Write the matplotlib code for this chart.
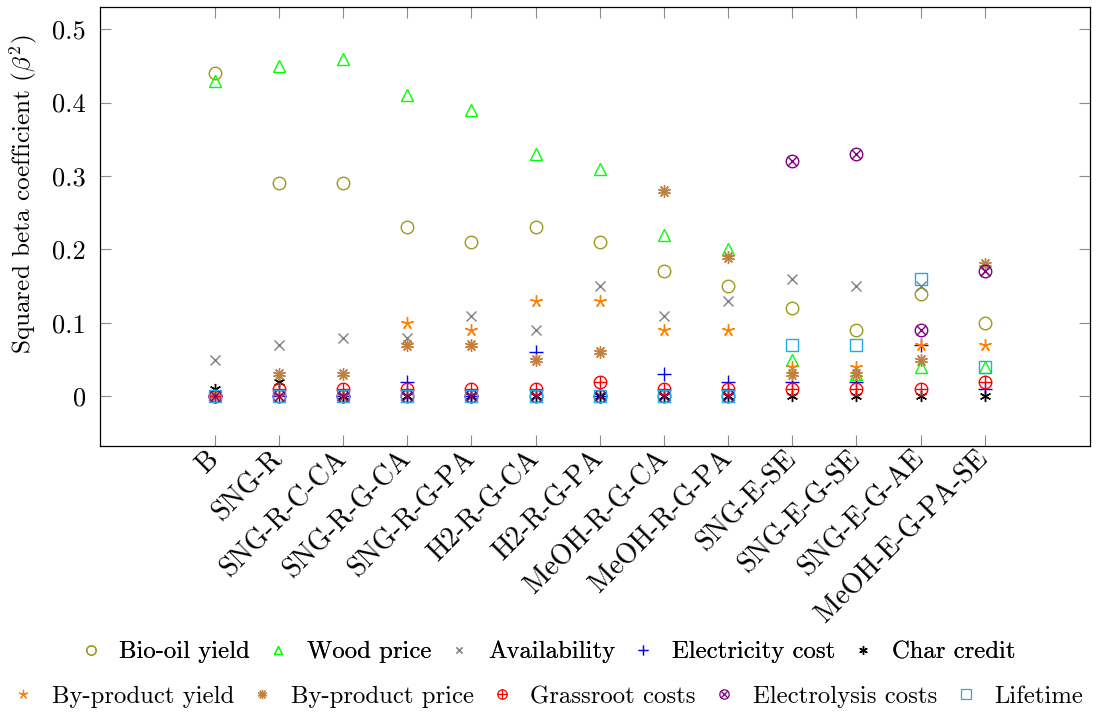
import matplotlib
matplotlib.use('Agg')
import matplotlib.pyplot as plt
from matplotlib.path import Path
from matplotlib.lines import Line2D

plt.rcParams['font.family'] = ['cmr10', 'DejaVu Serif']
plt.rcParams['mathtext.fontset'] = 'cm'
plt.rcParams['axes.unicode_minus'] = False
plt.rcParams['axes.formatter.use_mathtext'] = True

cases = ['B', 'SNG-R', 'SNG-R-C-CA', 'SNG-R-G-CA', 'SNG-R-G-PA', 'H2-R-G-CA', 'H2-R-G-PA',
         'MeOH-R-G-CA', 'MeOH-R-G-PA', 'SNG-E-SE', 'SNG-E-G-SE', 'SNG-E-G-AE', 'MeOH-E-G-PA-SE']

bio_oil_yield = [0.44, 0.29, 0.29, 0.23, 0.21, 0.23, 0.21, 0.17, 0.15, 0.12, 0.09, 0.14, 0.10]
wood_price = [0.43, 0.45, 0.46, 0.41, 0.39, 0.33, 0.31, 0.22, 0.20, 0.05, 0.03, 0.04, 0.04]
availability = [0.05, 0.07, 0.08, 0.08, 0.11, 0.09, 0.15, 0.11, 0.13, 0.16, 0.15, 0.15, 0.17]
electricity_cost = [0, 0, 0, 0.02, 0, 0.06, 0, 0.03, 0.02, 0.02, 0.02, 0.07, 0.01]
char_credit = [0.01, 0.02, 0, 0, 0, 0, 0, 0, 0, 0, 0, 0, 0]
byproduct_yield = [0, 0, 0, 0.10, 0.09, 0.13, 0.13, 0.09, 0.09, 0.04, 0.04, 0.07, 0.07]
byproduct_price = [0, 0.03, 0.03, 0.07, 0.07, 0.05, 0.06, 0.28, 0.19, 0.03, 0.03, 0.05, 0.18]
grassroot_costs = [0, 0.01, 0.01, 0.01, 0.01, 0.01, 0.02, 0.01, 0.01, 0.01, 0.01, 0.01, 0.02]
electrolysis_costs = [0, 0, 0, 0, 0, 0, 0, 0, 0, 0.32, 0.33, 0.09, 0.17]
lifetime = [0, 0, 0, 0, 0, 0, 0, 0, 0, 0.07, 0.07, 0.16, 0.04]

yticks = [0, 0.1, 0.2, 0.3, 0.4, 0.5]
yticklabels = ['0', '0.1', '0.2', '0.3', '0.4', '0.5']

# circle with a cross inside (oplus / otimes)
d = 0.7071
oplus = Path.make_compound_path(Path.unit_circle(),
                                Path([[-1, 0], [1, 0]], [Path.MOVETO, Path.LINETO]),
                                Path([[0, -1], [0, 1]], [Path.MOVETO, Path.LINETO]))
otimes = Path.make_compound_path(Path.unit_circle(),
                                 Path([[-d, -d], [d, d]], [Path.MOVETO, Path.LINETO]),
                                 Path([[-d, d], [d, -d]], [Path.MOVETO, Path.LINETO]))

series = [
    ('Bio-oil yield', bio_oil_yield, 'o', '#9A9A1A', 9),
    ('Wood price', wood_price, '^', '#00FF00', 8.5),
    ('Availability', availability, 'x', '#808080', 6.5),
    ('Electricity cost', electricity_cost, '+', '#0000FF', 10),
    ('Char credit', char_credit, (6, 2, 0), '#000000', 8),
    ('By-product yield', byproduct_yield, (5, 2, 0), '#FF8000', 9),
    ('By-product price', byproduct_price, (10, 2, 0), '#BF8040', 9),
    ('Grassroot costs', grassroot_costs, oplus, '#FF0000', 9),
    ('Electrolysis costs', electrolysis_costs, otimes, '#800080', 9),
    ('Lifetime', lifetime, 's', '#22AAE6', 9),
]

fig = plt.figure(figsize=(10.96, 7.14), dpi=100)
ax = fig.add_axes([0.0912, 0.375, 0.9033, 0.615])

x = list(range(len(cases)))
handles = []
for name, vals, mk, col, ms in series:
    ax.plot(x, vals, linestyle='none', marker=mk, markersize=ms,
            markerfacecolor='none', markeredgecolor=col, markeredgewidth=1.0)
    handles.append(Line2D([], [], linestyle='none', marker=mk, markersize=ms * 0.75,
                          markerfacecolor='none', markeredgecolor=col,
                          markeredgewidth=0.9, label=name))

ax.set_xlim(-1.79, 13.64)
ax.set_ylim(-0.068, 0.530)
ax.set_xticks(x)
ax.set_xticklabels(cases, rotation=45, ha='right', va='center',
                   rotation_mode='anchor', fontsize=20)
ax.set_yticks(yticks)
ax.set_yticklabels(yticklabels, fontsize=19)
ax.tick_params(direction='in', length=8, color='#8C8C8C', top=True, right=True, width=0.8)
ax.tick_params(axis='x', pad=6)
ax.tick_params(axis='y', pad=10)
for s in ax.spines.values():
    s.set_linewidth(0.9)
ax.set_ylabel(r'Squared beta coefficient ($\beta^2$)', fontsize=18.2)
ax.yaxis.set_label_coords(-0.062, 0.574)

leg_kw = dict(ncol=5, frameon=False, fontsize=17.8, handlelength=0.8,
              handletextpad=0.75, columnspacing=0.75, borderaxespad=0)
l1 = fig.legend(handles=handles[:5], loc='center', bbox_to_anchor=(0.5, 1 - 652 / 714), **leg_kw)
fig.add_artist(l1)
fig.legend(handles=handles[5:], loc='center', bbox_to_anchor=(0.5, 1 - 697 / 714), **leg_kw)

fig.savefig('out.png', dpi=100)
